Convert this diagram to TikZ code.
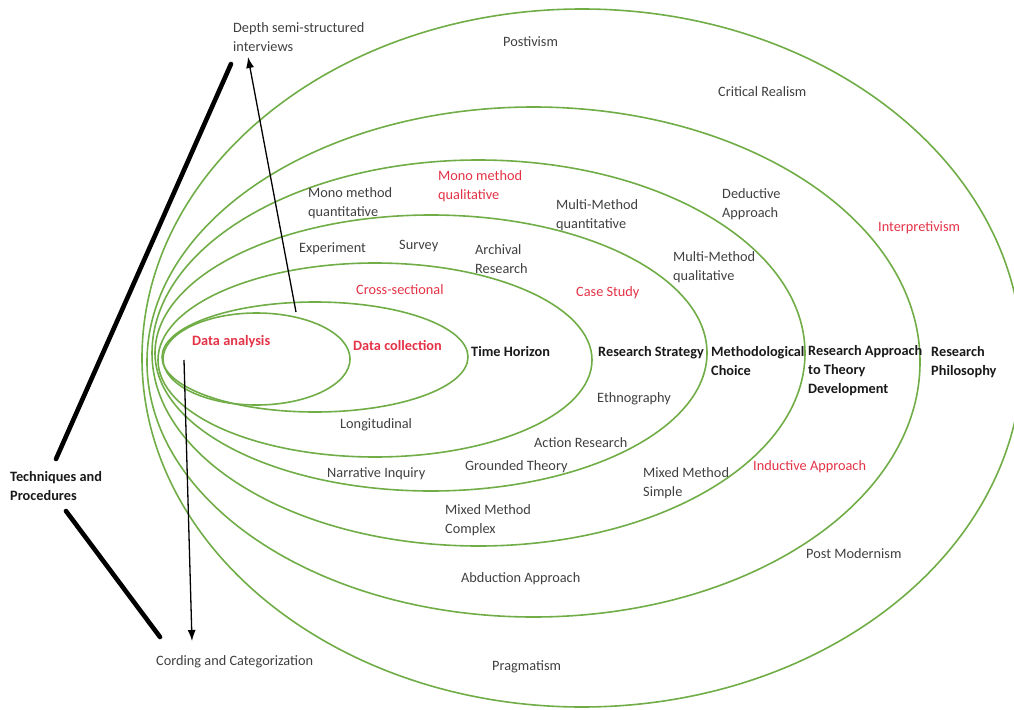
\documentclass[tikz,border=0pt]{standalone}
\usepackage{fontspec}
\setmainfont{Carlito}
\usetikzlibrary{arrows.meta}
\definecolor{onion}{RGB}{112,173,71}
\definecolor{txtgray}{RGB}{64,64,64}
\definecolor{hot}{RGB}{228,50,70}
\definecolor{headcol}{RGB}{25,25,25}
\tikzset{
  layer/.style={draw=onion, line width=1.6pt},
  lbl/.style={anchor=west, inner sep=0pt, text height=10pt, text depth=3pt,
    font=\fontsize{14.3}{19}\selectfont, text=txtgray},
  lbltwo/.style={anchor=north west, inner sep=0pt, align=left,
    font=\fontsize{14.3}{19}\selectfont, text=txtgray},
  hotlbl/.style={text=hot},
  headlbl/.style={text=headcol, font=\fontsize{14.3}{19}\selectfont\bfseries},
  thinarrow/.style={draw=black, line width=1.3pt, -{Latex[length=11pt,width=8pt]}},
  thickbar/.style={draw=black, line width=4.6pt, line cap=round}
}
\begin{document}
\begin{tikzpicture}[x=1pt, y=-1pt]
\useasboundingbox (0,0) rectangle (1014,709);

% nested layers of the onion, innermost first
\draw[layer] (256.5,359) ellipse [x radius=93.5pt, y radius=46pt];
\draw[layer] (315,357)   ellipse [x radius=153pt,  y radius=55pt];
\draw[layer] (375,360)   ellipse [x radius=217pt,  y radius=97pt];
\draw[layer] (431,353)   ellipse [x radius=276pt,  y radius=138pt];
\draw[layer] (478.5,353) ellipse [x radius=326.5pt,y radius=193pt];
\draw[layer] (533.5,362) ellipse [x radius=386.5pt,y radius=255pt];
\draw[layer] (582,358)   ellipse [x radius=440pt,  y radius=349pt];

% research philosophy ring
\node[lbl] (posit) at (503,43) {Postivism};
\node[lbl] (critr) at (718,93) {Critical Realism};
\node[lbl,hotlbl] (interp) at (878,228) {Interpretivism};
\node[lbl] (postmod) at (806,555) {Post Modernism};
\node[lbl] (pragm) at (492,667) {Pragmatism};
\node[lbltwo,headlbl] (philo) at (931,346.5) {Research\\Philosophy};

% approach to theory development ring
\node[lbltwo] (deduct) at (722,188) {Deductive\\Approach};
\node[lbl,hotlbl] (induct) at (753,467) {Inductive Approach};
\node[lbl] (abduct) at (461,579) {Abduction Approach};
\node[lbltwo,headlbl] (approach) at (808,345.5) {Research Approach\\to Theory\\Development};

% methodological choice ring
\node[lbltwo] (monoqn) at (308,187.5) {Mono method\\quantitative};
\node[lbltwo,hotlbl] (monoql) at (438,170.5) {Mono method\\qualitative};
\node[lbltwo] (multqn) at (556,199.5) {Multi-Method\\quantitative};
\node[lbltwo] (multql) at (673,251.5) {Multi-Method\\qualitative};
\node[lbltwo] (mixsim) at (643,467.5) {Mixed Method\\Simple};
\node[lbltwo] (mixcom) at (445,504.5) {Mixed Method\\Complex};
\node[lbltwo,headlbl] (methch) at (711,346.5) {Methodological\\Choice};

% research strategy ring
\node[lbl] (exper) at (299,249) {Experiment};
\node[lbl] (survey) at (399,246) {Survey};
\node[lbltwo] (archiv) at (475,244.5) {Archival\\Research};
\node[lbl,hotlbl] (casest) at (576,293) {Case Study};
\node[lbl] (ethno) at (597,399) {Ethnography};
\node[lbl] (actres) at (534,444) {Action Research};
\node[lbl] (grounded) at (465,467) {Grounded Theory};
\node[lbl] (narrat) at (327,474) {Narrative Inquiry};
\node[lbl,headlbl] (strat) at (598,353) {Research Strategy};

% time horizon ring
\node[lbl,hotlbl] (cross) at (356,291) {Cross-sectional};
\node[lbl] (longit) at (340,425) {Longitudinal};
\node[lbl,headlbl] (timeh) at (471,353) {Time Horizon};

% core
\node[lbl,headlbl,text=hot] (dcoll) at (353,347) {Data collection};
\node[lbl,headlbl,text=hot] (danal) at (192,342) {Data analysis};

% techniques and procedures, outside the onion
\node[lbltwo] (depth) at (233,22.5) {Depth semi-structured\\interviews};
\node[lbl] (cording) at (156,662) {Cording and Categorization};
\node[lbltwo,headlbl] (techn) at (10,471.5) {Techniques and\\Procedures};

\coordinate (upfoot) at (296,312);
\coordinate (uptip) at (248,57);
\coordinate (downfoot) at (184,360);
\coordinate (downtip) at (192,641);
\draw[thinarrow] (upfoot) -- (uptip);
\draw[thinarrow] (downfoot) -- (downtip);

\coordinate (bartop) at (231,64);
\coordinate (barup) at (56,459);
\coordinate (bardown) at (66,511);
\coordinate (barbot) at (160,637);
\draw[thickbar] (barup) -- (bartop);
\draw[thickbar] (bardown) -- (barbot);
\end{tikzpicture}
\end{document}
